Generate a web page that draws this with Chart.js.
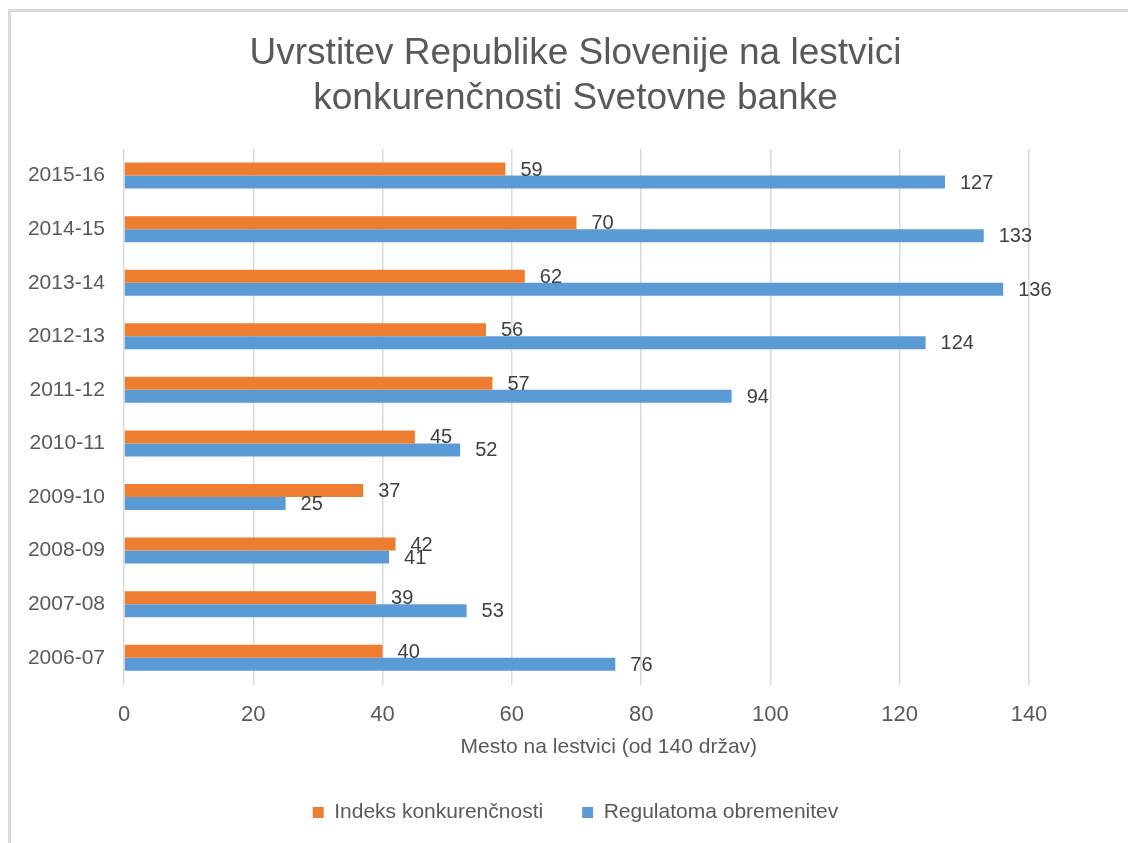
<!DOCTYPE html>
<html>
<head>
<meta charset="utf-8">
<title>Uvrstitev Republike Slovenije</title>
<script src="https://cdn.jsdelivr.net/npm/chart.js@4.4.1/dist/chart.umd.min.js"></script>
<style>
  html, body { margin: 0; padding: 0; background: #fff; overflow: hidden; }
  #frame { position: absolute; left: 8px; top: 9px; width: 1200px; height: 900px;
           border-left: 3px solid #d9d9d9; border-top: 3px solid #d9d9d9; }
  #wrap { position: absolute; left: 0; top: 0; width: 1128px; height: 843px; }
</style>
</head>
<body>
<div id="frame"></div>
<div id="wrap"><canvas id="chart"></canvas></div>
<script>
// rows top to bottom, as in the picture
const seasons = ['2015-16', '2014-15', '2013-14', '2012-13', '2011-12', '2010-11', '2009-10', '2008-09', '2007-08', '2006-07'];
const competitiveness = [59, 70, 62, 56, 57, 45, 37, 42, 39, 40];
const regulatoryBurden = [127, 133, 136, 124, 94, 52, 25, 41, 53, 76];
const seriesNames = ['Indeks konkurenčnosti', 'Regulatoma obremenitev'];
const xTicks = [0, 20, 40, 60, 80, 100, 120, 140];
const chartTitle = ['Uvrstitev Republike Slovenije na lestvici', 'konkurenčnosti Svetovne banke'];
const xAxisTitle = 'Mesto na lestvici (od 140 držav)';

const FONT = '"Liberation Sans", Arial, sans-serif';
const GREY = '#595959';
Chart.defaults.font.family = FONT;

// numbers at the end of each bar
const valueLabels = {
    id: 'valueLabels',
    afterDatasetsDraw(chart) {
        const ctx = chart.ctx;
        ctx.save();
        ctx.font = '20px ' + FONT;
        ctx.fillStyle = '#404040';
        ctx.textAlign = 'left';
        ctx.textBaseline = 'middle';
        chart.data.datasets.forEach((ds, i) => {
            chart.getDatasetMeta(i).data.forEach((bar, j) => {
                ctx.fillText(ds.data[j], bar.x + 15, bar.y + 1);
            });
        });
        ctx.restore();
    }
};

// axis title sits a bit right of the plot centre in the original
const axisTitle = {
    id: 'axisTitle',
    afterDraw(chart) {
        const x = chart.scales.x;
        const ctx = chart.ctx;
        ctx.save();
        ctx.font = '21px ' + FONT;
        ctx.fillStyle = GREY;
        ctx.textAlign = 'center';
        ctx.textBaseline = 'middle';
        ctx.fillText(xAxisTitle, x.getPixelForValue(75), x.top + 63);
        ctx.restore();
    }
};

new Chart(document.getElementById('chart'), {
    type: 'bar',
    data: {
        labels: seasons,
        datasets: [
            { label: seriesNames[0], data: competitiveness, backgroundColor: '#ED7D31',
              barPercentage: 1, categoryPercentage: 0.485 },
            { label: seriesNames[1], data: regulatoryBurden, backgroundColor: '#5B9BD5',
              barPercentage: 1, categoryPercentage: 0.485 }
        ]
    },
    options: {
        indexAxis: 'y',
        responsive: true,
        maintainAspectRatio: false,
        animation: false,
        layout: { padding: { left: 28, right: 5, top: 0, bottom: 20 } },
        scales: {
            x: {
                min: 0, max: 140,
                afterBuildTicks: s => { s.ticks = xTicks.map(v => ({ value: v })); },
                afterFit: s => { s.height = 78.5; },   // tick labels + room for the axis title
                grid: { color: '#d9d9d9', lineWidth: 1.5, drawTicks: false },
                border: { display: false },
                ticks: { color: GREY, font: { size: 22 }, padding: 17 }
            },
            y: {
                afterFit: s => { s.width = 96; },
                grid: { display: false, drawTicks: false },
                border: { display: false },
                ticks: { color: GREY, font: { size: 21 }, padding: 19 }
            },
            // empty strip on the right so the plot ends at 140
            yRight: {
                type: 'category', position: 'right',
                grid: { display: false, drawTicks: false },
                border: { display: false },
                ticks: { display: false },
                afterFit: s => { s.width = 94; }
            }
        },
        plugins: {
            title: {
                display: true, text: chartTitle, color: GREY,
                font: { size: 37, weight: 'normal', lineHeight: 1.2 },
                padding: { top: 32, bottom: 28 }
            },
            legend: {
                position: 'bottom',
                maxHeight: 60,
                labels: { boxWidth: 11, boxHeight: 11, padding: 39, color: GREY, font: { size: 21 } }
            },
            tooltip: { enabled: false }
        }
    },
    plugins: [valueLabels, axisTitle]
});
</script>
</body>
</html>
